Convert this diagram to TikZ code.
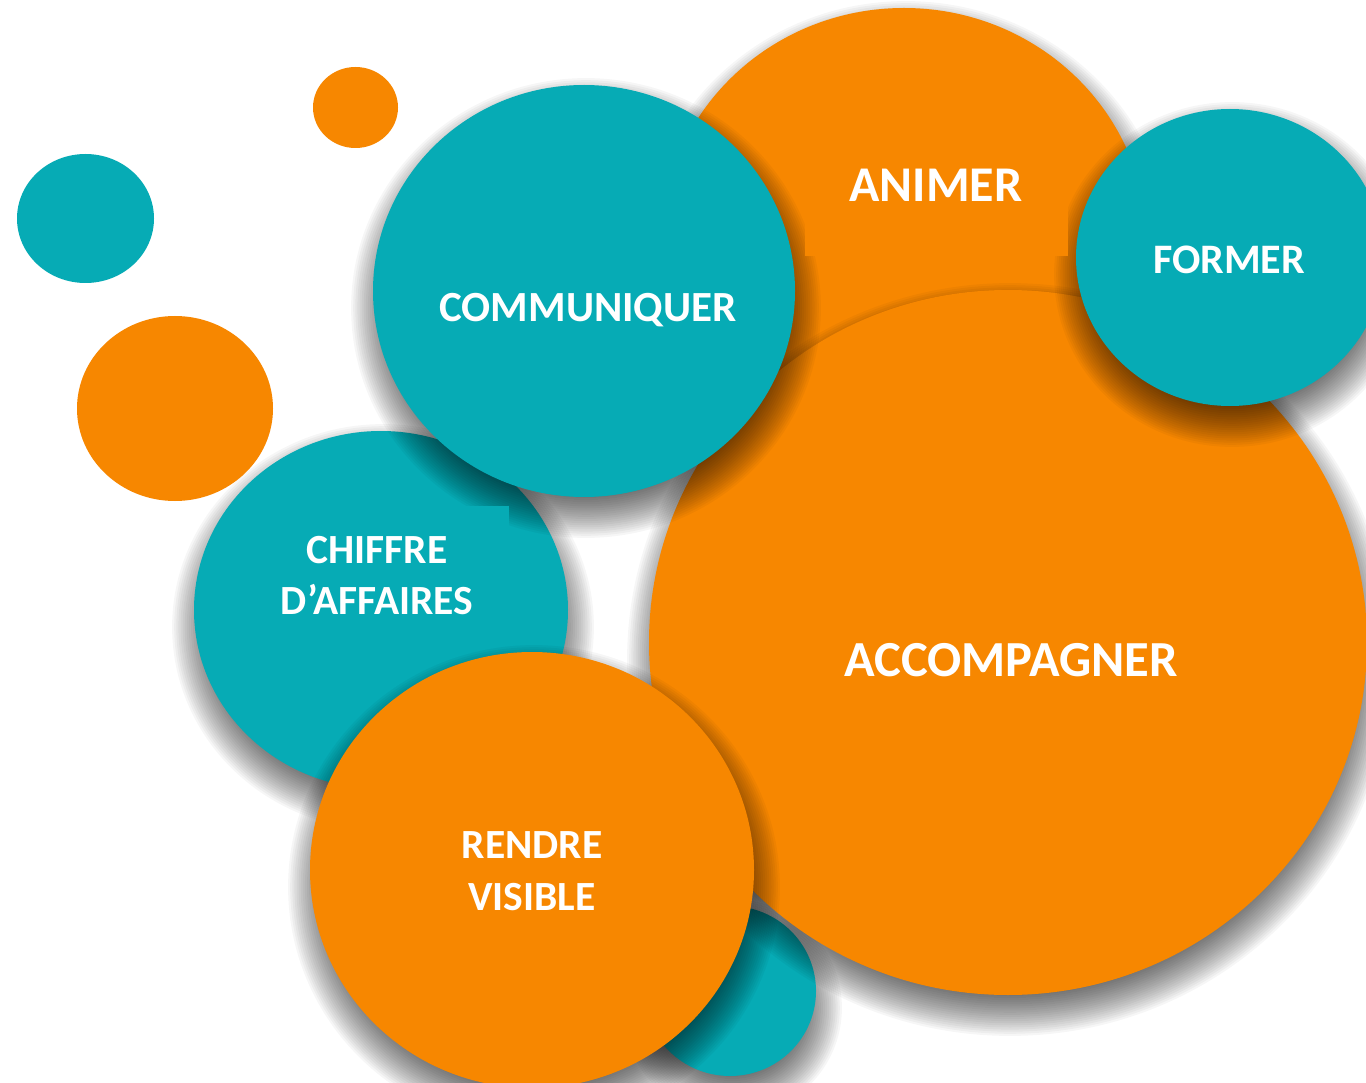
\documentclass[tikz,border=0pt]{standalone}
\usepackage{fontspec}
\setmainfont{Carlito}
\usetikzlibrary{shapes.geometric}
\definecolor{orng}{RGB}{247,135,0}
\definecolor{teal2}{RGB}{6,171,181}
\tikzset{
  bub/.style={ellipse, inner sep=0pt, outer sep=0pt, draw=none},
  shlayer/.style={fill=black, opacity=0.034},
  lbl/.style 2 args={text=white, font=\bfseries\fontsize{#1}{#2}\selectfont, align=center, inner sep=0pt},
  tbox/.style={draw=none, inner sep=0pt, outer sep=0pt}
}
% soft drop shadow: centre x, centre y, x radius, y radius
\newcommand\bubshadow[4]{%
  \foreach \k in {0,...,19}{%
    \fill[shlayer] ({#1+2},{#2+17}) ellipse [x radius={#3-16+\k*2.1}, y radius={#4-16+\k*2.1}];
  }%
}
\begin{document}
\begin{tikzpicture}[x=1pt, y=-1pt]
\useasboundingbox (0,0) rectangle (1366,1083);
\fill[white] (0,0) rectangle (1366,1083);
% small bubbles
\node[bub, fill=orng, minimum width=85pt, minimum height=81pt] (sO) at (355.5,107.5) {};
\node[bub, fill=teal2, minimum width=137pt, minimum height=129pt] (sT) at (85.5,218.5) {};
\node[bub, fill=orng, minimum width=196pt, minimum height=185pt] (mO) at (175,408.5) {};
% cluster
\bubshadow{904}{243}{243}{235}
\node[bub, fill=orng, minimum width=486pt, minimum height=470pt] (animer) at (904,243) {};
\bubshadow{730}{991}{86}{85}
\node[bub, fill=teal2, minimum width=172pt, minimum height=170pt] (bT) at (730,991) {};
\bubshadow{1008}{642.5}{359}{352.5}
\node[bub, fill=orng, minimum width=718pt, minimum height=705pt] (accomp) at (1008,642.5) {};
\bubshadow{381}{610}{187}{179}
\node[bub, fill=teal2, minimum width=374pt, minimum height=358pt] (chiffre) at (381,610) {};
\bubshadow{584}{291}{211}{206}
\node[bub, fill=teal2, minimum width=422pt, minimum height=412pt] (commu) at (584,291) {};
\bubshadow{1230}{257.5}{154}{148.5}
\node[bub, fill=teal2, minimum width=308pt, minimum height=297pt] (former) at (1230,257.5) {};
% text boxes
\node[tbox, fill=orng, minimum width=263pt, minimum height=126pt] (boxA) at (936.5,193) {};
\node[tbox, fill=teal2, minimum width=258pt, minimum height=137pt] (boxC) at (380,574.5) {};
\bubshadow{532}{870}{222}{218}
\node[bub, fill=orng, minimum width=444pt, minimum height=436pt] (rendre) at (532,870) {};
% labels
\node[lbl={50}{60}] (tA) at (936,185) {ANIMER};
\node[lbl={43}{54}] (tC) at (588,310) {COMMUNIQUER};
\node[lbl={42}{50}] (tF) at (1229,260) {FORMER};
\node[lbl={50.5}{60}] (tAc) at (1011,660) {ACCOMPAGNER};
\node[lbl={41.5}{51}] (tCh) at (377,576) {CHIFFRE\\D’AFFAIRES};
\node[lbl={41.5}{52}] (tR) at (532,871) {RENDRE\\VISIBLE};
\end{tikzpicture}
\end{document}
